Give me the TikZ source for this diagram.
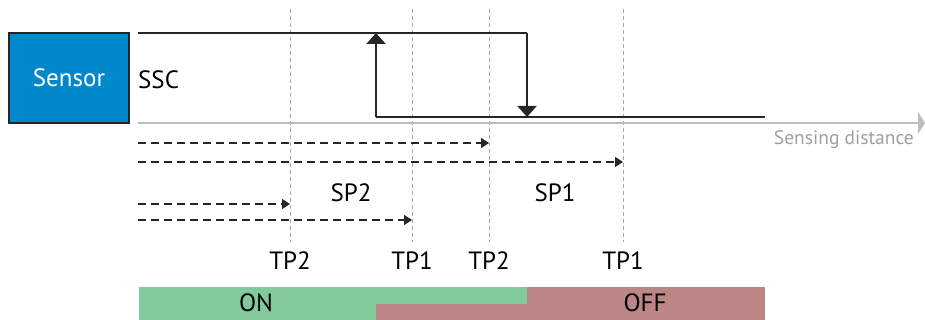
\documentclass[tikz,border=0pt]{standalone}
\usepackage{fontspec}
\setmainfont{PT Sans}
\usetikzlibrary{positioning,arrows.meta}
\definecolor{sensorblue}{RGB}{0,136,204}
\definecolor{ongreen}{RGB}{130,201,156}
\definecolor{offred}{RGB}{188,134,134}
\definecolor{axisgray}{RGB}{190,190,190}
\definecolor{labelgray}{RGB}{160,160,160}

\begin{document}
\begin{tikzpicture}[x=1pt, y=-1pt, font=\fontsize{25}{30}\selectfont,
    level/.style={line width=2pt, draw=black!85},
    levelarrow/.style={level, -{Triangle[length=11pt, width=19pt]}},
    setpoint/.style={line width=1.6pt, draw=black!85, dash pattern=on 8pt off 5pt,
        -{Triangle[length=8pt, width=10pt]}},
    teachline/.style={draw=black!35, line width=1pt, dash pattern=on 4pt off 3pt},
    txt/.style={inner sep=0pt}]
    \useasboundingbox (0,0) rectangle (925,320);

    % sensor and output
    \node[draw=black!85, line width=2pt, fill=sensorblue, text=white, txt,
        minimum width=120pt, minimum height=90pt] (sensor) at (69,78) {Sensor};
    \node[txt, anchor=west] (ssc) at (138,80) {SSC};

    % teach points
    \foreach \name/\x/\lab in {tpa/290/TP2, tpb/412/TP1, tpc/489/TP2, tpd/623/TP1} {
        \coordinate (\name-top) at (\x,9);
        \coordinate (\name-bot) at (\x,242);
        \draw[teachline] (\name-top) -- (\name-bot);
        \node[txt] (\name-lab) at (\x,261) {\lab};
    }

    % sensing axis
    \coordinate (axis-start) at (138,123);
    \coordinate (axis-end) at (925,123);
    \draw[axisgray, line width=2pt, -{Triangle[length=7pt, width=22pt]}] (axis-start) -- (axis-end);
    \node[txt, text=labelgray, font=\fontsize{19.5}{23}\selectfont, anchor=north east]
        (axis-lab) at (914,130) {Sensing distance};

    % hysteresis
    \coordinate (hi-start) at (138,33);
    \coordinate (hi-end) at (527,33);
    \coordinate (lo-start) at (376,117);
    \coordinate (lo-end) at (765,117);
    \draw[level] (hi-start) -- (hi-end);
    \draw[levelarrow] (hi-end) -- (hi-end |- lo-end);
    \draw[level] (lo-start) -- (lo-end);
    \draw[levelarrow] (lo-start) -- (lo-start |- hi-start);

    % set points
    \coordinate (s1) at (138,143);
    \coordinate (s2) at (138,162);
    \coordinate (s3) at (138,204);
    \coordinate (s4) at (138,220);
    \draw[setpoint] (s1) -- (s1 -| tpc-top);
    \draw[setpoint] (s2) -- (s2 -| tpd-top);
    \draw[setpoint] (s3) -- (s3 -| tpa-top);
    \draw[setpoint] (s4) -- (s4 -| tpb-top);
    \node[txt] (sp2) at (351,193) {SP2};
    \node[txt] (sp1) at (555,193) {SP1};

    % switching state
    \fill[ongreen] (139,287) rectangle (527,320);
    \fill[offred] (527,287) rectangle (765,320);
    \fill[offred] (376,304) rectangle (527,320);
    \node[txt] (on) at (256,303) {ON};
    \node[txt] (off) at (645,303) {OFF};
\end{tikzpicture}
\end{document}
